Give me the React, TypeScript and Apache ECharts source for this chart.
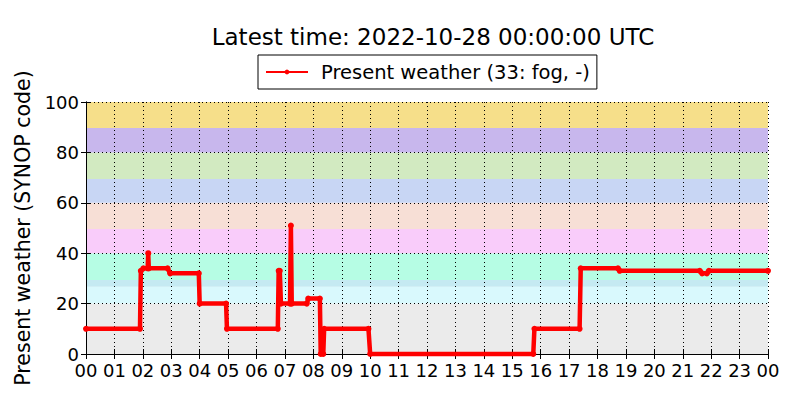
import React, { useEffect, useRef } from "react";
import * as echarts from "echarts";

const titleText = "Latest time: 2022-10-28 00:00:00 UTC";
const seriesName = "Present weather (33: fog, -)";
const yAxisName = "Present weather (SYNOP code)";

const hourLabels = [
  "00", "01", "02", "03", "04", "05", "06", "07", "08", "09", "10", "11",
  "12", "13", "14", "15", "16", "17", "18", "19", "20", "21", "22", "23", "00",
];

// time in hours since 00 UTC
const times = [
  0, 1.9, 1.93, 2.02, 2.17, 2.19, 2.21, 2.87, 2.96, 3.97, 4.0, 4.93, 4.96,
  6.75, 6.78, 6.82, 6.86, 7.18, 7.21, 7.24, 7.77, 7.82, 8.23, 8.26, 8.35, 8.38,
  9.94, 10.0, 15.74, 15.78, 17.37, 17.41, 18.72, 18.78, 21.6, 21.68, 21.85,
  21.92, 24,
];
const codes = [
  10, 10, 33, 34, 34, 40, 34, 34, 32, 32, 20, 20, 10,
  10, 33, 33, 20, 20, 51, 20, 20, 22, 22, 0, 0, 10,
  10, 0, 0, 10, 10, 34, 34, 33, 33, 32, 32,
  33, 33,
];

const bandLow = [0, 20, 26.7, 29.4, 40, 49.6, 60, 69.4, 80, 89.7];
const bandHigh = [20, 26.7, 29.4, 40, 49.6, 60, 69.4, 80, 89.7, 100];
const bandColors = [
  "#ebebeb", "#d9f9fd", "#c5eaf2", "#b6fde4", "#f9ccfa",
  "#f7dfd6", "#c8d6f4", "#d2eac1", "#c8b7ed", "#f6df8a",
];

const FONT = "DejaVu Sans";

export default function App() {
  const ref = useRef<HTMLDivElement>(null);
  useEffect(() => {
    if (!ref.current) return;
    const chart = echarts.init(ref.current, null, { renderer: "svg" });
    const lineData = times.map((t, i) => [t, codes[i]]);
    const bandData = bandLow.map((lo, i) => [lo, bandHigh[i], i]);
    const axisCommon = {
      type: "value" as const,
      axisLine: { show: true, lineStyle: { color: "#000", width: 1 } },
      axisTick: { show: true, inside: true, length: 5, lineStyle: { color: "#000" } },
    };
    chart.setOption({
      animation: false,
      backgroundColor: "#fff",
      textStyle: { fontFamily: FONT },
      title: {
        text: titleText,
        left: 428,
        top: 20,
        textAlign: "center",
        textStyle: { fontFamily: FONT, fontSize: 23, fontWeight: "normal", color: "#000" },
      },
      legend: {
        data: [seriesName],
        left: 258,
        top: 55,
        padding: [7, 7, 7, 7],
        borderColor: "#000",
        borderWidth: 1,
        borderRadius: 0,
        itemWidth: 42,
        itemHeight: 6,
        itemGap: 10,
        textStyle: { fontFamily: FONT, fontSize: 19.5, color: "#000", padding: [0, 0, 0, 8] },
      },
      grid: { left: 86, right: 32, top: 102, bottom: 46 },
      xAxis: [
        {
          ...axisCommon,
          min: 0,
          max: 24,
          interval: 1,
          z: 3,
          axisLabel: {
            margin: 7,
            fontFamily: FONT,
            fontSize: 18,
            color: "#000",
            formatter: (v: number) => hourLabels[Math.round(v)],
          },
          splitLine: { show: true, lineStyle: { color: "#000", width: 1, type: [1, 3] } },
        },
        {
          ...axisCommon,
          position: "top",
          min: 0,
          max: 24,
          interval: 1,
          z: 3,
          axisLabel: { show: false },
          splitLine: { show: false },
        },
      ],
      yAxis: [
        {
          ...axisCommon,
          min: 0,
          max: 100,
          interval: 20,
          z: 3,
          name: yAxisName,
          nameLocation: "middle",
          nameGap: 46,
          nameTextStyle: { fontFamily: FONT, fontSize: 20.5, color: "#000" },
          axisLabel: { margin: 7, fontFamily: FONT, fontSize: 18, color: "#000" },
          splitLine: { show: true, lineStyle: { color: "#000", width: 1, type: [1, 3] } },
        },
        {
          ...axisCommon,
          position: "right",
          min: 0,
          max: 100,
          interval: 20,
          z: 3,
          axisLabel: { show: false },
          splitLine: { show: false },
        },
      ],
      series: [
        {
          type: "custom",
          name: "bands",
          z: 1,
          silent: true,
          clip: true,
          data: bandData,
          renderItem: (params: any, api: any) => {
            const lo = api.value(0);
            const hi = api.value(1);
            const idx = api.value(2);
            const p1 = api.coord([0, hi]);
            const p2 = api.coord([24, lo]);
            return {
              type: "rect",
              shape: { x: p1[0], y: p1[1], width: p2[0] - p1[0], height: p2[1] - p1[1] },
              style: { fill: bandColors[idx] },
            };
          },
        },
        {
          type: "line",
          name: seriesName,
          z: 4,
          data: lineData,
          symbol: "circle",
          symbolSize: 6,
          showSymbol: true,
          clip: false,
          color: "#ff0000",
          itemStyle: { color: "#ff0000" },
          lineStyle: { color: "#ff0000", width: 4.5 },
        },
      ],
    });
    return () => chart.dispose();
  }, []);
  return (
    <div
      ref={ref}
      style={{ position: "fixed", left: 0, top: 0, width: 800, height: 400 }}
    />
  );
}
